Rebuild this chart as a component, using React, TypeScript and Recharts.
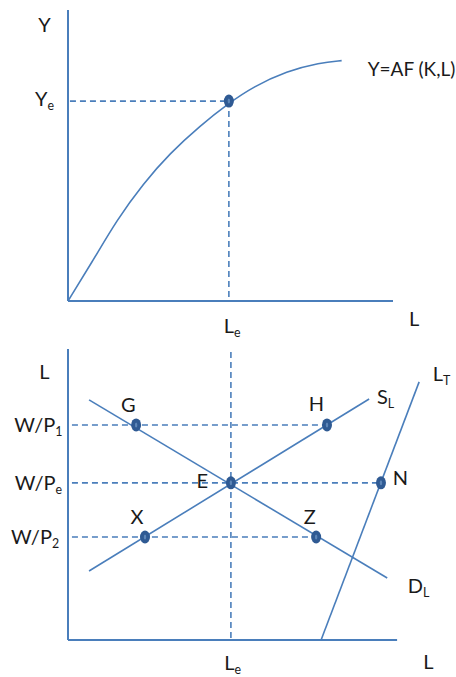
import React from "react";
import { LineChart, Line, XAxis, YAxis, ReferenceLine, ReferenceDot } from "recharts";

// top panel: production function
const prodL = [0, 0.78, 1.5, 2.32, 3.14, 4.06, 4.95, 5.7, 6.73, 7.75, 8.42];
const prodY = [0, 1.41, 2.78, 4.04, 5.08, 6.02, 6.8, 7.36, 7.9, 8.19, 8.26];
const Le = 4.95;
const Ye = 6.87;

// bottom panel: labour market
const demandL = [0.64, 9.7];
const demandW = [8.25, 2.13];
const supplyL = [0.64, 9.15];
const supplyW = [2.37, 8.28];
const totalL = [7.69, 10.67];
const totalW = [0, 8.87];
const wageLevels = [7.39, 5.4, 3.54]; // W/P1, W/Pe, W/P2
const pointNames = ["G", "H", "E", "N", "X", "Z"];
const pointL = [2.07, 7.87, 4.95, 9.51, 2.34, 7.54];
const pointW = [7.39, 7.39, 5.4, 5.4, 3.54, 3.54];

const zip = (xs: number[], ys: number[]) => xs.map((x, i) => ({ x, y: ys[i] }));
const prodData = zip(prodL, prodY);
const demandData = zip(demandL, demandW);
const supplyData = zip(supplyL, supplyW);
const totalData = zip(totalL, totalW);

const BLUE = "#4a7ebb";
const DOT = "#2f5a93";
const FONT = "Lato, 'Open Sans', sans-serif";

const Txt = ({ viewBox, main, sub, size = 20, anchor = "middle" }: any) => {
  const cx = viewBox.x + (viewBox.width || 0) / 2;
  const cy = viewBox.y + (viewBox.height || 0) / 2;
  return (
    <text x={cx} y={cy} dy={7} textAnchor={anchor} fontFamily={FONT} fontSize={size} fill="#1a1a1a">
      {main}
      {sub && (
        <tspan fontSize={size * 0.62} dy={4}>
          {sub}
        </tspan>
      )}
    </text>
  );
};

const label = (lx: number, ly: number, main: string, sub?: string, size?: number, anchor?: string) => (
  <ReferenceDot
    key={`${main}${sub || ""}${lx}${ly}`}
    x={lx}
    y={ly}
    r={0}
    fill="none"
    stroke="none"
    ifOverflow="visible"
    label={{ content: (p: any) => <Txt {...p} main={main} sub={sub} size={size} anchor={anchor} /> }}
  />
);

const Oval = (props: any) => {
  const { cx, cy } = props;
  return (
    <g>
      <ellipse cx={cx} cy={cy} rx={5} ry={6.5} fill={DOT} />
      <ellipse cx={cx} cy={cy} rx={1.2} ry={2.5} fill="#5d86b8" />
    </g>
  );
};

const dot = (dx: number, dy: number, k: string) => (
  <ReferenceDot key={k} x={dx} y={dy} r={6} ifOverflow="visible" shape={<Oval />} />
);

const axisSeg = (x1: number, y1: number, x2: number, y2: number) => (
  <ReferenceLine
    segment={[{ x: x1, y: y1 }, { x: x2, y: y2 }]}
    stroke={BLUE}
    strokeWidth={2}
    ifOverflow="visible"
  />
);

const dashSeg = (x1: number, y1: number, x2: number, y2: number, k: string) => (
  <ReferenceLine
    key={k}
    segment={[{ x: x1, y: y1 }, { x: x2, y: y2 }]}
    stroke={BLUE}
    strokeWidth={1.6}
    strokeDasharray="6 4"
    ifOverflow="visible"
  />
);

export default function App() {
  return (
    <div style={{ position: "fixed", left: 0, top: 0, width: 456, height: 677, background: "#fff", overflow: "hidden" }}>
      <div style={{ position: "absolute", left: 0, top: 0 }}>
        <LineChart width={456} height={340} margin={{ top: 10, right: 63, bottom: 39, left: 68 }}>
          <XAxis type="number" dataKey="x" domain={[0, 10]} hide />
          <YAxis type="number" dataKey="y" domain={[0, 10]} hide />
          {axisSeg(0, 0, 0, 10)}
          {axisSeg(0, 0, 10, 0)}
          {dashSeg(0.06, Ye, Le, Ye, "ye")}
          {dashSeg(Le, Ye, Le, 0, "le")}
          <Line
            data={prodData}
            dataKey="y"
            type="basis"
            stroke={BLUE}
            strokeWidth={1.6}
            dot={false}
            isAnimationActive={false}
          />
          {dot(Le, Ye, "pe")}
          {label(-0.72, 9.48, "Y")}
          {label(-0.72, 6.95, "Y", "e")}
          {label(10.65, -0.62, "L")}
          {label(5.05, -0.85, "L", "e")}
          {label(9.22, 7.97, "Y=AF (K,L)", undefined, 19, "start")}
        </LineChart>
      </div>
      <div style={{ position: "absolute", left: 0, top: 340 }}>
        <LineChart width={456} height={337} margin={{ top: 9, right: 26, bottom: 37, left: 68 }}>
          <XAxis type="number" dataKey="x" domain={[0, 11]} hide />
          <YAxis type="number" dataKey="y" domain={[0, 10]} hide />
          {axisSeg(0, 0, 0, 10)}
          {axisSeg(0, 0, 10, 0)}
          {dashSeg(Le, 9.9, Le, 0, "vle")}
          {dashSeg(0.12, wageLevels[0], pointL[1], wageLevels[0], "w1")}
          {dashSeg(0.12, wageLevels[1], pointL[3], wageLevels[1], "we")}
          {dashSeg(0.12, wageLevels[2], pointL[5], wageLevels[2], "w2")}
          <Line data={demandData} dataKey="y" type="linear" stroke={BLUE} strokeWidth={1.6} dot={false} isAnimationActive={false} />
          <Line data={supplyData} dataKey="y" type="linear" stroke={BLUE} strokeWidth={1.6} dot={false} isAnimationActive={false} />
          <Line data={totalData} dataKey="y" type="linear" stroke={BLUE} strokeWidth={1.6} dot={false} isAnimationActive={false} />
          {pointNames.map((n, i) => dot(pointL[i], pointW[i], n))}
          {label(1.83, 8.06, "G")}
          {label(7.55, 8.1, "H")}
          {label(4.08, 5.45, "E")}
          {label(10.1, 5.55, "N")}
          {label(2.1, 4.24, "X")}
          {label(7.35, 4.24, "Z")}
          {label(9.65, 8.35, "S", "L")}
          {label(10.65, 1.85, "D", "L")}
          {label(11.35, 9.15, "L", "T")}
          {label(-0.72, 9.2, "L")}
          {label(-0.9, wageLevels[0], "W/P", "1")}
          {label(-0.9, wageLevels[1], "W/P", "e")}
          {label(-1.0, wageLevels[2], "W/P", "2")}
          {label(10.95, -0.75, "L")}
          {label(5.0, -0.8, "L", "e")}
        </LineChart>
      </div>
    </div>
  );
}
